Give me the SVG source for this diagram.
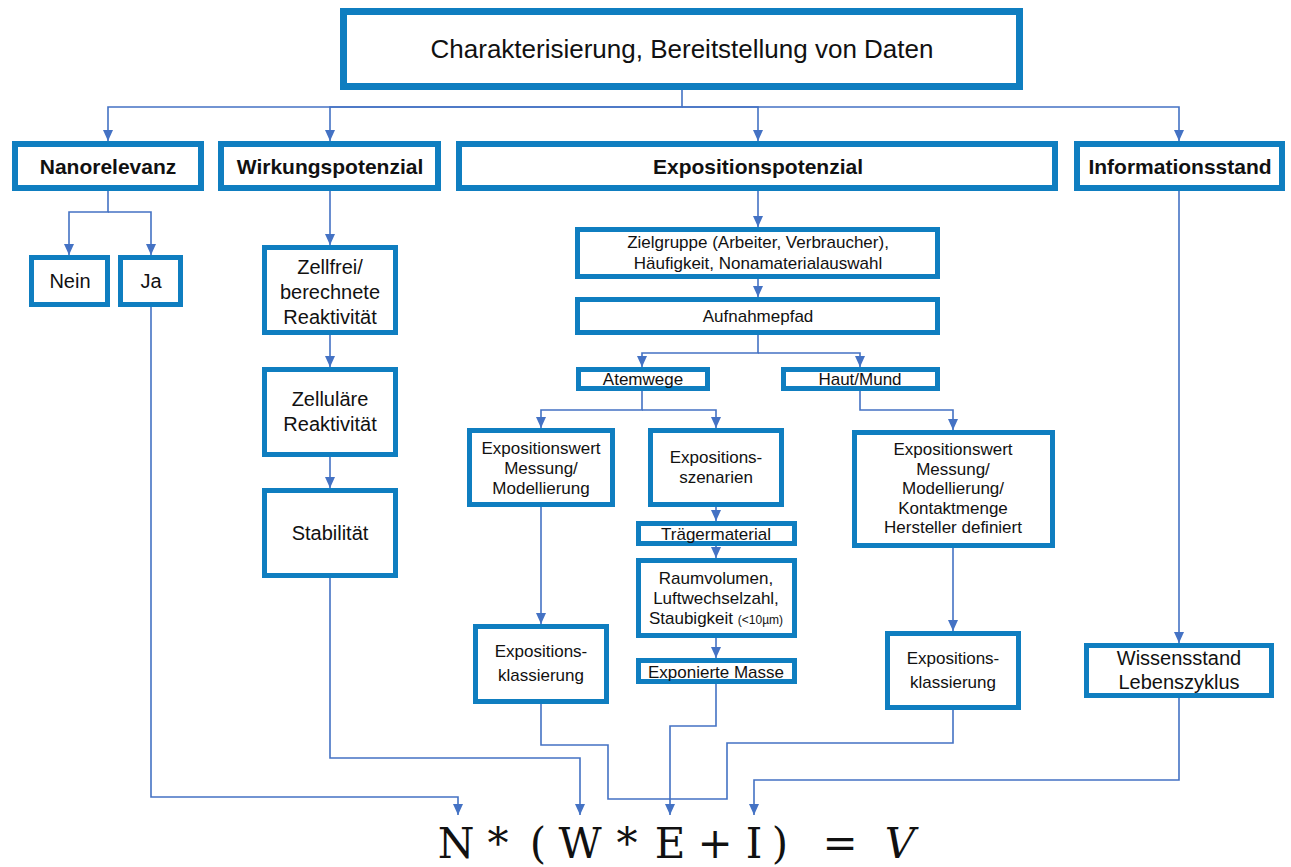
<svg xmlns="http://www.w3.org/2000/svg" width="1291" height="867" viewBox="0 0 1291 867">
<style>
.b{fill:#fff;stroke:#0f7ec0;stroke-width:5}
.b6{fill:#fff;stroke:#0f7ec0;stroke-width:6}
.b7{fill:#fff;stroke:#0f7ec0;stroke-width:7}
text{font-family:"Liberation Sans",Arial,sans-serif;fill:#111;text-anchor:middle}
.h{font-size:21px;font-weight:bold}
.m{font-size:20px}
.s{font-size:17px}
.t{font-size:26px}
.c path{fill:none;stroke:#4472c4;stroke-width:1.6}
.f{font-family:"DejaVu Serif","Liberation Serif",serif;font-size:42px}
</style>
<defs>
<marker id="a" markerUnits="userSpaceOnUse" markerWidth="12" markerHeight="12" refX="11" refY="6" orient="auto">
<path d="M0,1 L11,6 L0,11 z" fill="#4472c4"/>
</marker>
</defs>
<g class="c">
<path d="M682,90 V107 H108 V141" marker-end="url(#a)"/>
<path d="M682,107 H330 V141" marker-end="url(#a)"/>
<path d="M682,107 H758 V141" marker-end="url(#a)"/>
<path d="M682,107 H1179 V141" marker-end="url(#a)"/>
<path d="M108,191 V212 H69 V255" marker-end="url(#a)"/>
<path d="M108,212 H151 V255" marker-end="url(#a)"/>
<path d="M151,307 V797 H458 V815" marker-end="url(#a)"/>
<path d="M330,191 V245" marker-end="url(#a)"/>
<path d="M330,335 V367" marker-end="url(#a)"/>
<path d="M330,457 V488" marker-end="url(#a)"/>
<path d="M330,578 V758 H580 V815" marker-end="url(#a)"/>
<path d="M758,191 V227" marker-end="url(#a)"/>
<path d="M758,279 V297" marker-end="url(#a)"/>
<path d="M758,335 V353 H642 V367" marker-end="url(#a)"/>
<path d="M758,353 H860 V367" marker-end="url(#a)"/>
<path d="M642,391 V410 H541 V428" marker-end="url(#a)"/>
<path d="M642,410 H716 V428" marker-end="url(#a)"/>
<path d="M860,391 V410 H953 V430" marker-end="url(#a)"/>
<path d="M541,507 V624" marker-end="url(#a)"/>
<path d="M716,507 V521" marker-end="url(#a)"/>
<path d="M716,546 V558" marker-end="url(#a)"/>
<path d="M716,638 V658" marker-end="url(#a)"/>
<path d="M953,548 V631" marker-end="url(#a)"/>
<path d="M1179,191 V643" marker-end="url(#a)"/>
<path d="M541,704 V745 H608 V799 H727 V743 H953 V710"/>
<path d="M716,684 V726 H670 V815" marker-end="url(#a)"/>
<path d="M1179,698 V780 H754 V815" marker-end="url(#a)"/>
</g>
<g id="title"><rect class="b7" x="343.5" y="11.5" width="676" height="75"/><text class="t" x="682" y="58">Charakterisierung, Bereitstellung von Daten</text></g>
<g id="nanorelevanz"><rect class="b6" x="15" y="144" width="186" height="44"/><text class="h" x="108" y="174">Nanorelevanz</text></g>
<g id="wirkungspotenzial"><rect class="b6" x="221" y="144" width="217" height="44"/><text class="h" x="330" y="174">Wirkungspotenzial</text></g>
<g id="expositionspotenzial"><rect class="b6" x="459" y="144" width="596" height="44"/><text class="h" x="758" y="174">Expositionspotenzial</text></g>
<g id="informationsstand"><rect class="b6" x="1077" y="144" width="205" height="44"/><text class="h" x="1180" y="174">Informationsstand</text></g>
<g id="nein"><rect class="b" x="31.5" y="257.5" width="76" height="47"/><text class="m" x="70" y="288">Nein</text></g>
<g id="ja"><rect class="b" x="120.5" y="257.5" width="60" height="47"/><text class="m" x="151" y="288">Ja</text></g>
<g id="zellfrei"><rect class="b" x="264.5" y="247.5" width="131" height="85"/><text class="m" x="330" y="274">Zellfrei/</text><text class="m" x="330" y="299">berechnete</text><text class="m" x="330" y="324">Reaktivität</text></g>
<g id="zellulaer"><rect class="b" x="264.5" y="369.5" width="131" height="85"/><text class="m" x="330" y="406">Zelluläre</text><text class="m" x="330" y="431">Reaktivität</text></g>
<g id="stabilitaet"><rect class="b" x="264.5" y="490.5" width="131" height="85"/><text class="m" x="330" y="540">Stabilität</text></g>
<g id="zielgruppe"><rect class="b" x="577.5" y="229.5" width="360" height="47"/><text class="s" x="758" y="248">Zielgruppe (Arbeiter, Verbraucher),</text><text class="s" x="758" y="269">Häufigkeit, Nonamaterialauswahl</text></g>
<g id="aufnahmepfad"><rect class="b" x="577.5" y="299.5" width="360" height="33"/><text class="s" x="758" y="322">Aufnahmepfad</text></g>
<g id="atemwege"><rect class="b" x="578.5" y="369.5" width="129" height="19"/><text class="s" x="643" y="385">Atemwege</text></g>
<g id="hautmund"><rect class="b" x="783.5" y="369.5" width="154" height="19"/><text class="s" x="860" y="385">Haut/Mund</text></g>
<g id="expwert-links"><rect class="b" x="469.5" y="430.5" width="143" height="74"/><text class="s" x="541" y="454">Expositionswert</text><text class="s" x="541" y="474">Messung/</text><text class="s" x="541" y="494">Modellierung</text></g>
<g id="szenarien"><rect class="b" x="650.5" y="430.5" width="131" height="74"/><text class="s" x="716" y="463">Expositions-</text><text class="s" x="716" y="483">szenarien</text></g>
<g id="traegermaterial"><rect class="b" x="638.5" y="523.5" width="156" height="20"/><text class="s" x="716" y="540">Trägermaterial</text></g>
<g id="raumvolumen"><rect class="b" x="638.5" y="560.5" width="156" height="75"/><text class="s" x="716" y="584">Raumvolumen,</text><text class="s" x="716" y="604">Luftwechselzahl,</text><text class="s" x="716" y="624">Staubigkeit <tspan font-size="12">(&lt;10µm)</tspan></text></g>
<g id="exponierte-masse"><rect class="b" x="638.5" y="660.5" width="156" height="21"/><text class="s" x="716" y="678">Exponierte Masse</text></g>
<g id="expwert-rechts"><rect class="b" x="854.5" y="432.5" width="198" height="113"/><text class="s" x="953" y="455">Expositionswert</text><text class="s" x="953" y="475">Messung/</text><text class="s" x="953" y="494">Modellierung/</text><text class="s" x="953" y="514">Kontaktmenge</text><text class="s" x="953" y="533">Hersteller definiert</text></g>
<g id="klassierung-links"><rect class="b" x="475.5" y="626.5" width="131" height="75"/><text class="s" x="541" y="657">Expositions-</text><text class="s" x="541" y="681">klassierung</text></g>
<g id="klassierung-rechts"><rect class="b" x="887.5" y="633.5" width="131" height="74"/><text class="s" x="953" y="664">Expositions-</text><text class="s" x="953" y="688">klassierung</text></g>
<g id="wissensstand"><rect class="b" x="1086.5" y="645.5" width="185" height="50"/><text class="m" x="1179" y="665">Wissensstand</text><text class="m" x="1179" y="689">Lebenszyklus</text></g>
<g id="formel">
<text class="f" x="456" y="858">N</text>
<text class="f" x="498" y="858">*</text>
<text class="f" x="538" y="858">(</text>
<text class="f" x="580" y="858">W</text>
<text class="f" x="627" y="858">*</text>
<text class="f" x="670" y="858">E</text>
<text class="f" x="715" y="858">+</text>
<text class="f" x="754" y="858">I</text>
<text class="f" x="780" y="858">)</text>
<text class="f" x="840" y="858">=</text>
<text class="f" x="900" y="858" font-style="italic">V</text>
</g>
</svg>
